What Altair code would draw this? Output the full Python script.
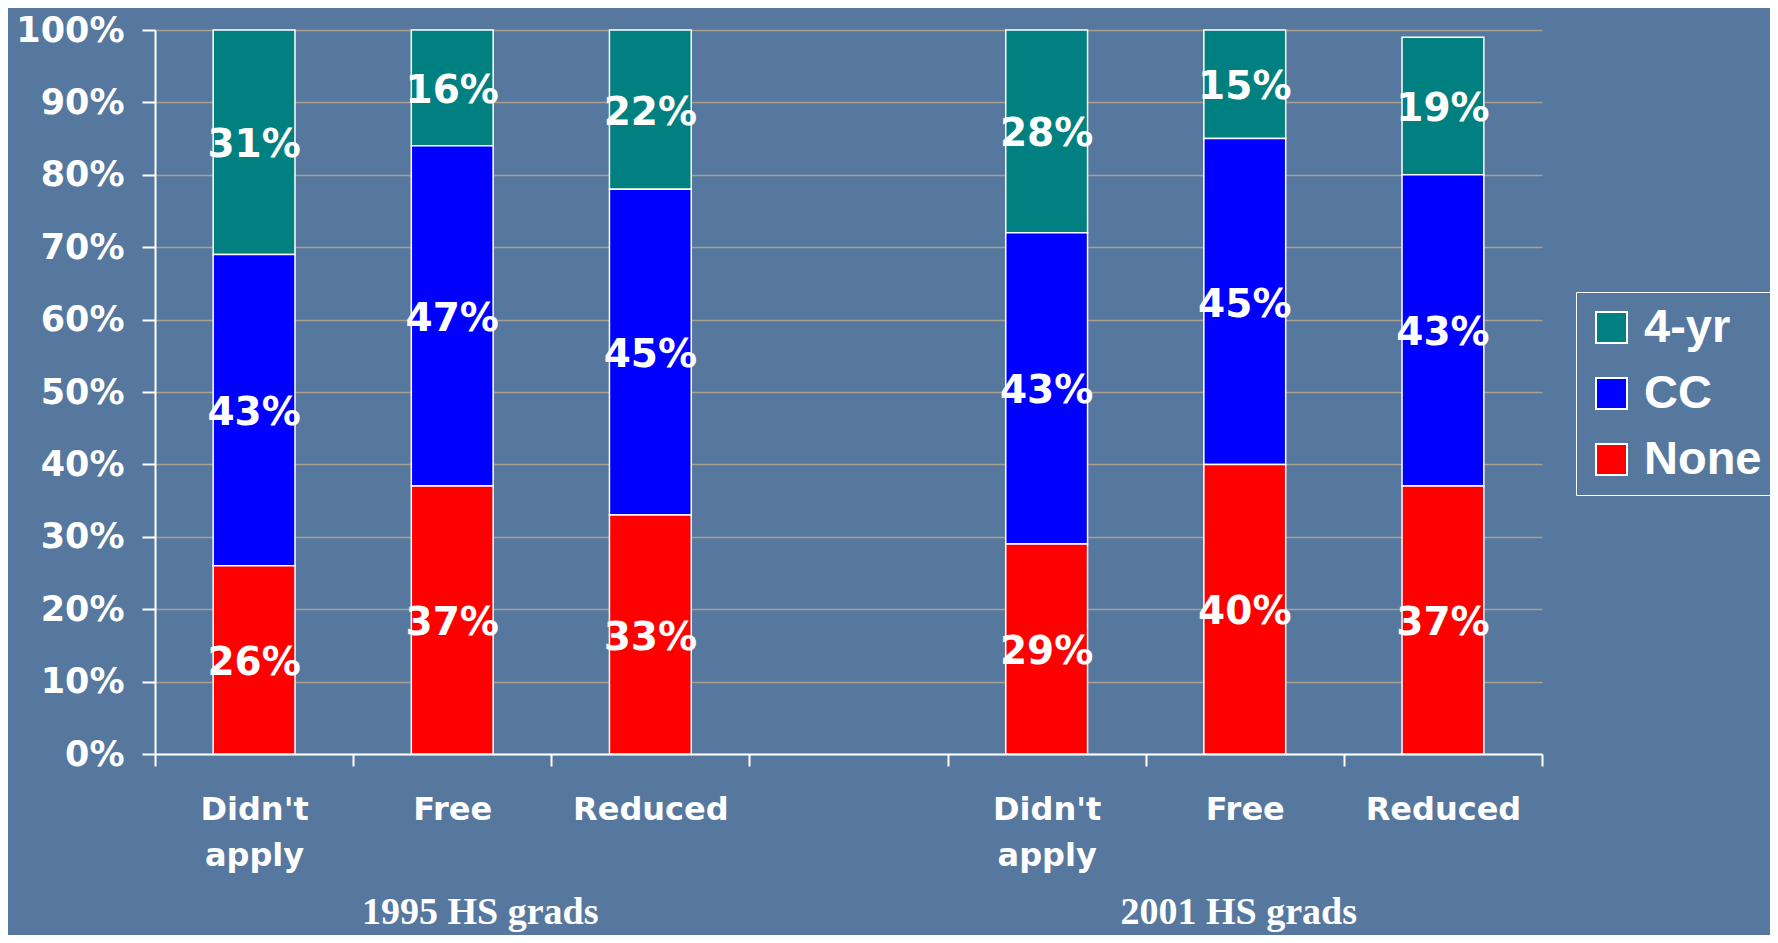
import altair as alt
import pandas as pd

# ---------------- data ----------------
groups = ["1995", "2001"]
group_titles = ["1995 HS grads", "2001 HS grads"]
categories = ["Didn't apply", "Free", "Reduced"]
outcomes = ["4-yr", "CC", "None"]          # legend order (top to bottom)
outcome_colors = ["#008080", "#0000ff", "#ff0000"]
stack_rank = {"None": 0, "CC": 1, "4-yr": 2}  # bottom to top

none_1995 = [26, 37, 33]
cc_1995 = [43, 47, 45]
fouryr_1995 = [31, 16, 22]

none_2001 = [29, 40, 37]
cc_2001 = [43, 45, 43]
fouryr_2001 = [28, 15, 19]

series = {
    "1995": {"None": none_1995, "CC": cc_1995, "4-yr": fouryr_1995},
    "2001": {"None": none_2001, "CC": cc_2001, "4-yr": fouryr_2001},
}

rows = []
for g in groups:
    for i, c in enumerate(categories):
        for o in outcomes:
            rows.append({"key": f"{g}|{c}", "outcome": o,
                         "value": series[g][o][i], "rank": stack_rank[o]})
df = pd.DataFrame(rows)

x_domain = [f"1995|{c}" for c in categories] + ["gap"] + [f"2001|{c}" for c in categories]

# ---------------- styling ----------------
BG = "#56789f"
GRID = "#a89f91"

x_scale = alt.Scale(domain=x_domain, paddingInner=0, paddingOuter=0)
x_axis = alt.Axis(
    title=None, tickBand="extent", labelAngle=0,
    labelExpr="indexof(datum.label, '|') < 0 ? '' : split(substring(datum.label, 5), ' ')",
    labelFont="DejaVu Sans", labelFontSize=32, labelFontWeight="bold",
    labelColor="white", labelLineHeight=46, labelPadding=28,
    domainColor="white", domainWidth=2, tickColor="white", tickWidth=2, tickSize=12,
    labelOverlap=False, grid=False,
)
y_axis = alt.Axis(
    title=None, values=list(range(0, 101, 10)), labelExpr="datum.value + '%'",
    labelFont="DejaVu Sans", labelFontSize=35, labelFontWeight="bold",
    labelColor="white", labelPadding=18,
    domainColor="white", domainWidth=2, tickColor="white", tickWidth=2, tickSize=13,
    grid=True, gridColor=GRID, gridWidth=1.5,
)

base = alt.Chart(df).transform_stack(
    stack="value", groupby=["key"], as_=["v0", "v1"],
    sort=[alt.SortField("rank", order="ascending")],
).transform_calculate(
    mid="(datum.v0 + datum.v1) / 2", label="datum.value + '%'"
)

bars = base.mark_bar(width=alt.RelativeBandSize(0.413), stroke="white", strokeWidth=1.5).encode(
    x=alt.X("key:N", scale=x_scale, axis=x_axis),
    y=alt.Y("v0:Q", scale=alt.Scale(domain=[0, 100], nice=False), axis=y_axis),
    y2="v1:Q",
    color=alt.Color(
        "outcome:N",
        scale=alt.Scale(domain=outcomes, range=outcome_colors),
        legend=alt.Legend(
            title=None, orient="none", legendX=1421, legendY=262,
            labelFont="Liberation Sans", labelFontSize=47, labelFontWeight="bold",
            labelColor="white", symbolType="square", symbolSize=961,
            symbolStrokeColor="white", symbolStrokeWidth=2, symbolOpacity=1,
            strokeColor="white", padding=12, rowPadding=18, labelOffset=9,
        ),
    ),
)

labels = base.mark_text(font="DejaVu Sans", fontSize=39, fontWeight="bold",
                        color="white", baseline="middle", dy=3).encode(
    x=alt.X("key:N", scale=x_scale),
    y=alt.Y("mid:Q"),
    text="label:N",
)

title_layers = []
title_dx = [28, -6]
for g, t, dx in zip(groups, group_titles, title_dx):
    tdf = pd.DataFrame({"key": [f"{g}|Free"], "t": [t]})
    title_layers.append(
        alt.Chart(tdf).mark_text(font="Liberation Serif", fontSize=38, fontWeight=900,
                                 color="white", baseline="alphabetic", dx=dx).encode(
            x=alt.X("key:N", scale=x_scale),
            y=alt.value(894),
            text="t:N",
        )
    )

chart = alt.layer(bars, labels, *title_layers).properties(
    width=1387, height=724,
    padding={"left": 147, "top": 22, "right": 228, "bottom": 181},
    autosize=alt.AutoSizeParams(type="none"),
    background=BG,
).configure_view(stroke=None)

chart.save("out.html", embed_options={"renderer": "svg", "actions": False})
